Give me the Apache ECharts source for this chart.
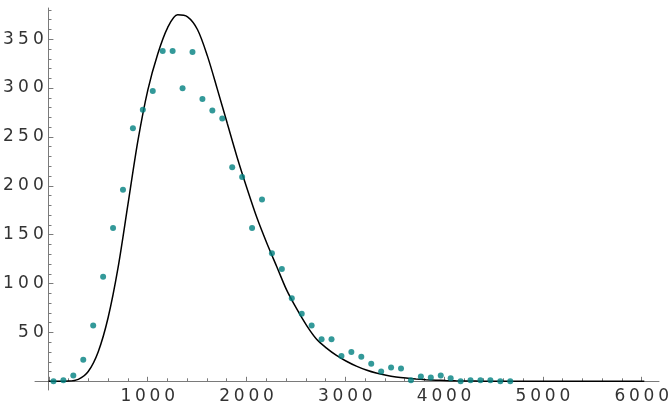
<!DOCTYPE html>
<html>
<head>
<meta charset="utf-8">
<style>html,body{margin:0;padding:0;background:#fff;}#chart{width:672px;height:415px;}</style>
<script src="https://cdn.jsdelivr.net/npm/echarts@6/dist/echarts.min.js"></script>
</head>
<body>
<div id="chart"></div>
<script>
// Observed counts (teal dots)
var pointX = [50,150,250,350,450,550,650,750,850,950,
              1050,1150,1250,1350,1450,1550,1650,1750,1850,1950,
              2050,2150,2250,2350,2450,2550,2650,2750,2850,2950,
              3050,3150,3250,3350,3450,3550,3650,3750,3850,3950,
              4050,4150,4250,4350,4450,4550,4650];
var pointY = [0,1,6,22,57,107,157,196,259,278,
              297,338,338,300,337,289,277,269,219,209,
              157,186,131,115,85,69,57,43,43,26,
              30,25,18,10,14,13,1,5,4,6,
              3,0,1,1,1,0,0];
// Fitted curve (black line)
var curveX = [0,100,200,300,400,500,600,700,800,900,
              1000,1100,1200,1300,1400,1500,1600,1700,1800,1900,
              2000,2100,2200,2300,2400,2500,2600,2700,2800,2900,
              3000,3100,3200,3300,3400,3500,3600,3700,3800,3900,
              4000,4100,4200,4300,4400,4500,4600,4700,4800,4900,
              5000,5100,5200,5300,5400,5500,5600,5700,5800,5900,6000];
var curveY = [0,0,0.2,2,10,30,65,116,181,246,
              298,335,362,375,373,360,333,299,264,229,
              197,167,141,117,93,74,57,43,34,26.5,
              20.5,15.5,11.5,8.4,6.2,4.5,3.3,2.4,1.7,1.2,
              0.8,0.5,0.3,0.2,0.1,0,0,0,0,0,
              0,0,0,0,0,0,0,0,0,0,0];
// Tick labels
var xTicks = [1000,2000,3000,4000,5000,6000];
var yTicks = [50,100,150,200,250,300,350];

var FONT = 'DejaVu Sans';
var LABEL_COLOR = '#333333';
var AXIS_COLOR = '#7a7a7a';

function spaced(v, list){
  if (list.indexOf(v) < 0) return '';
  return String(v).split('').map(function(c){return '{c|' + c + '}';}).join('');
}
var richX = {c:{width:14.6, align:'center', fontSize:17, fontFamily:FONT, color:LABEL_COLOR}};
var richY = {c:{width:15, align:'center', fontSize:17, fontFamily:FONT, color:LABEL_COLOR}};

var chart = echarts.init(document.getElementById('chart'));
chart.setOption({
  animation:false,
  backgroundColor:'#fff',
  grid:[
    {left:35, right:13, top:8, bottom:25},            // data + axis lines
    {left:48.5, right:27.7, top:39.2, bottom:33.7},   // major ticks + labels
    {left:48.5, right:27.7, top:9.9, bottom:33.7}     // y minor ticks
  ],
  xAxis:[
    {gridIndex:0, type:'value', min:-136, max:6148,
     axisLine:{show:true, onZero:true, lineStyle:{color:AXIS_COLOR, width:1}},
     axisTick:{show:false}, axisLabel:{show:false}, splitLine:{show:false}},
    {gridIndex:1, type:'value', min:0, max:6000, interval:1000,
     axisLine:{show:false},
     axisTick:{show:true, inside:true, length:4.5, lineStyle:{color:AXIS_COLOR}},
     minorTick:{show:true, splitNumber:5, length:3, lineStyle:{color:AXIS_COLOR}},
     axisLabel:{show:true, margin:7, formatter:function(v){return spaced(v, xTicks);}, rich:richX},
     splitLine:{show:false}, minorSplitLine:{show:false}},
    {gridIndex:2, type:'value', min:0, max:6000, show:false}
  ],
  yAxis:[
    {gridIndex:0, type:'value', min:-8.9, max:382,
     axisLine:{show:true, onZero:true, lineStyle:{color:AXIS_COLOR, width:1}},
     axisTick:{show:false}, axisLabel:{show:false}, splitLine:{show:false}},
    {gridIndex:1, type:'value', min:0, max:350, interval:50,
     axisLine:{show:false},
     axisTick:{show:true, inside:true, length:4.5, lineStyle:{color:AXIS_COLOR}},
     axisLabel:{show:true, margin:3, formatter:function(v){return spaced(v, yTicks);}, rich:richY},
     splitLine:{show:false}},
    {gridIndex:2, type:'value', min:0, max:380, interval:10,
     axisLine:{show:false},
     axisTick:{show:true, inside:true, length:3, lineStyle:{color:AXIS_COLOR}},
     axisLabel:{show:false}, splitLine:{show:false}}
  ],
  series:[
    {type:'line', xAxisIndex:0, yAxisIndex:0, smooth:0.3, showSymbol:false, symbol:'none',
     lineStyle:{color:'#000', width:1.5}, z:3,
     data:curveX.map(function(x,i){return [x, curveY[i]];})},
    {type:'scatter', xAxisIndex:0, yAxisIndex:0, symbol:'circle', symbolSize:6,
     itemStyle:{color:'#008080'}, z:4,
     data:pointX.map(function(x,i){return [x, pointY[i]];})}
  ]
});
</script>
</body>
</html>
